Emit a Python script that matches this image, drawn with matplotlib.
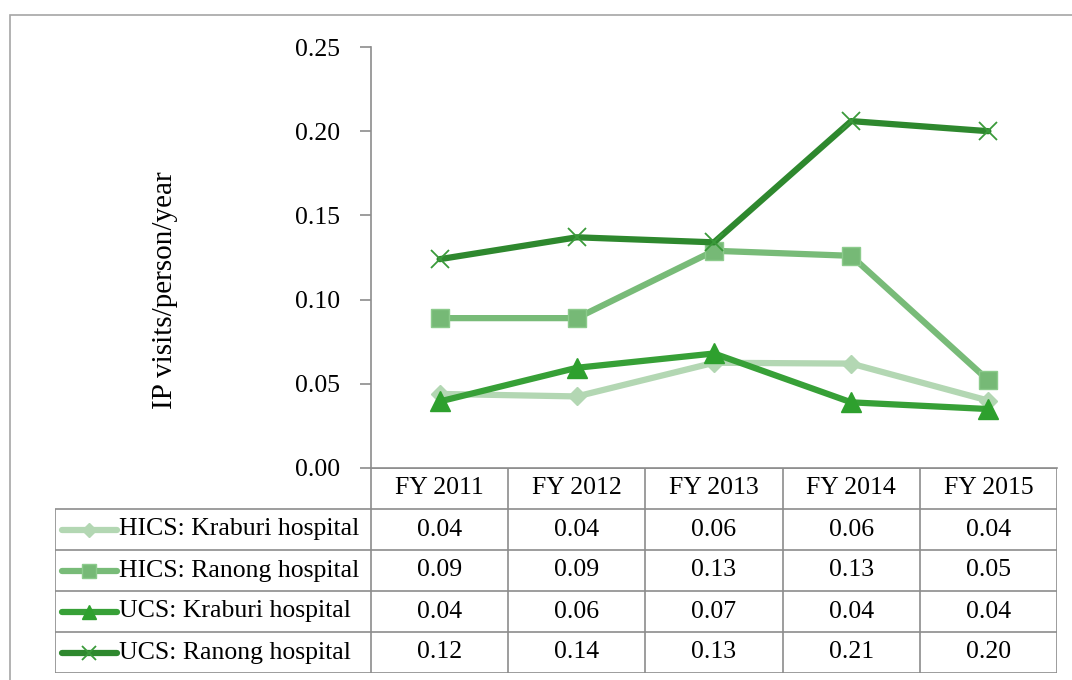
import matplotlib.pyplot as plt
from matplotlib.patches import Rectangle

# --- data ---
years = ["FY 2011", "FY 2012", "FY 2013", "FY 2014", "FY 2015"]
series_names = ["HICS: Kraburi hospital", "HICS: Ranong hospital",
                "UCS: Kraburi hospital", "UCS: Ranong hospital"]
hics_kraburi = [0.044, 0.0425, 0.0625, 0.062, 0.040]
hics_ranong = [0.089, 0.089, 0.129, 0.126, 0.052]
ucs_kraburi = [0.0395, 0.0595, 0.068, 0.039, 0.035]
ucs_ranong = [0.124, 0.137, 0.134, 0.206, 0.200]
table_values = [
    ["0.04", "0.04", "0.06", "0.06", "0.04"],
    ["0.09", "0.09", "0.13", "0.13", "0.05"],
    ["0.04", "0.06", "0.07", "0.04", "0.04"],
    ["0.12", "0.14", "0.13", "0.21", "0.20"],
]

# --- styles ---
styles = [
    dict(color="#b3d7b3", marker="D", ms=9, mfc="#b3d7b3", mec="#b3d7b3", mew=1),
    dict(color="#78bb78", marker="s", ms=13, mfc="#76b976", mec="#8ccb8c", mew=1),
    dict(color="#37a037", marker="^", ms=14, mfc="#2ea02e", mec="#2ea02e", mew=1),
    dict(color="#2e882e", marker="x", ms=13, mfc="none", mec="#3a9a3a", mew=1.3),
]
GRID = "#8c8c8c"
FONT = ["Liberation Serif", "DejaVu Serif"]
FS = 18.5

plt.rcParams["font.family"] = FONT

W, H = 1072, 680
fig = plt.figure(figsize=(W / 100, H / 100), dpi=100)

# outer frame (cut off at right/bottom like the reference)
fig.patches.append(Rectangle((10 / W, -0.2), 2.0, 1.2 - 15 / H, transform=fig.transFigure,
                             fill=False, edgecolor="#a6a6a6", lw=1.2))

# --- line chart ---
x0, x1, y_top, y_bot = 371, 1057, 47, 468
ax = fig.add_axes([x0 / W, 1 - y_bot / H, (x1 - x0) / W, (y_bot - y_top) / H])
xs = range(len(years))
all_series = [hics_kraburi, hics_ranong, ucs_kraburi, ucs_ranong]
for vals, st in zip(all_series, styles):
    ax.plot(xs, vals, color=st["color"], lw=4.5, marker=st["marker"], ms=st["ms"],
            mfc=st["mfc"], mec=st["mec"], mew=st["mew"], solid_joinstyle="round",
            solid_capstyle="round", clip_on=False)

ax.set_xlim(-0.5, len(years) - 0.5)
ax.set_ylim(0, 0.25)
ax.set_yticks([0, 0.05, 0.10, 0.15, 0.20, 0.25])
ax.set_yticklabels([f"{t:.2f}" for t in ax.get_yticks()], fontsize=FS)
ax.set_xticks([])
for s in ["top", "right"]:
    ax.spines[s].set_visible(False)
for s in ["left", "bottom"]:
    ax.spines[s].set_color(GRID)
    ax.spines[s].set_linewidth(1.2)
ax.tick_params(axis="y", length=8, width=1.2, color=GRID, pad=14)
ax.patch.set_alpha(0)

fig.text(165 / W, 1 - 290 / H, "IP visits/person/year", rotation=90,
         ha="center", va="center", fontsize=21)

# --- data table below the chart ---
leg_w = (371 - 55) / ((x1 - x0) / len(years))  # width of legend column in category units
t_left, t_bot = 55, 673
tab = fig.add_axes([t_left / W, 1 - t_bot / H, (x1 - t_left) / W, (t_bot - y_bot) / H])
tab.set_xlim(-0.5 - leg_w, len(years) - 0.5)
tab.set_ylim(len(series_names) + 1, 0)
tab.axis("off")
lkw = dict(color=GRID, lw=1.2, solid_capstyle="butt")

n_rows = len(series_names) + 1
tab.plot([-0.5, len(years) - 0.5], [0, 0], **lkw)
for r in range(1, n_rows + 1):
    tab.plot([-0.5 - leg_w, len(years) - 0.5], [r, r], **lkw)
tab.plot([-0.5 - leg_w] * 2, [1, n_rows], **lkw)
for c in range(len(years) + 1):
    tab.plot([c - 0.5] * 2, [0, n_rows], **lkw)

for c, yr in enumerate(years):
    tab.text(c, 0.5, yr, ha="center", va="center", fontsize=FS)
for r, (name, st, row) in enumerate(zip(series_names, styles, table_values), start=1):
    lx0 = -0.5 - leg_w + 0.05
    lx1 = lx0 + 0.40
    tab.plot([lx0, lx1], [r + 0.5, r + 0.5], color=st["color"], lw=4.5,
             solid_capstyle="round")
    tab.plot([(lx0 + lx1) / 2], [r + 0.5], marker=st["marker"], ms=st["ms"] * 0.75,
             mfc=st["mfc"], mec=st["mec"], mew=st["mew"], ls="none")
    tab.text(lx1 + 0.02, r + 0.5, name, ha="left", va="center", fontsize=FS)
    for c, v in enumerate(row):
        tab.text(c, r + 0.5, v, ha="center", va="center", fontsize=FS)

fig.savefig("out.png", dpi=100)
